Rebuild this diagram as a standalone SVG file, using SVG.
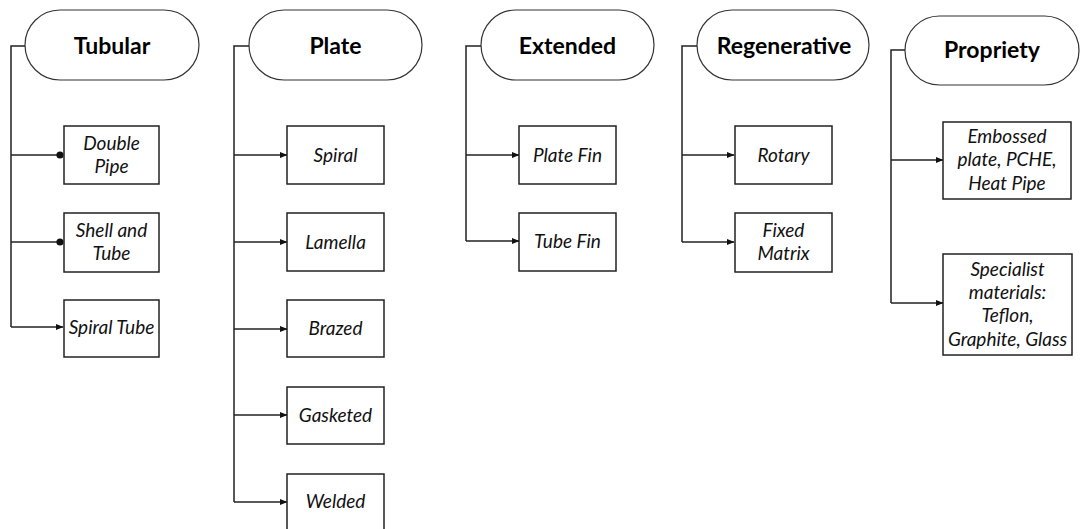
<svg xmlns="http://www.w3.org/2000/svg" width="1080" height="529" viewBox="0 0 1080 529">
<style>
.pill{fill:#fff;stroke:#333;stroke-width:1.2}
.box{fill:#fff;stroke:#222;stroke-width:1.5}
.ttl{font-family:Lato,"Liberation Sans",sans-serif;font-weight:bold;font-size:23px;fill:#000;text-anchor:middle}
.lbl{font-family:Lato,"Liberation Sans",sans-serif;font-style:italic;font-size:19px;fill:#111;text-anchor:middle}
.con{fill:none;stroke:#222;stroke-width:1.5}
</style>
<defs>
<marker id="arr" viewBox="0 0 8 8" refX="7.5" refY="4" markerWidth="8" markerHeight="8" markerUnits="userSpaceOnUse" orient="auto">
<path d="M0,0.8 L8,4 L0,7.2 Z" fill="#111"/>
</marker>
<marker id="dot" viewBox="0 0 8 8" refX="7" refY="4" markerWidth="8" markerHeight="8" markerUnits="userSpaceOnUse" orient="auto">
<circle cx="4" cy="4" r="3.6" fill="#111"/>
</marker>
</defs>
<g id="connectors">
<path class="con" d="M25,46 H11 V327"/>
<path class="con" d="M11,155 H63" marker-end="url(#dot)"/>
<path class="con" d="M11,242 H63" marker-end="url(#dot)"/>
<path class="con" d="M11,327 H63" marker-end="url(#arr)"/>
<path class="con" d="M249,46 H234 V502"/>
<path class="con" d="M234,155 H287" marker-end="url(#arr)"/>
<path class="con" d="M234,242 H287" marker-end="url(#arr)"/>
<path class="con" d="M234,329 H287" marker-end="url(#arr)"/>
<path class="con" d="M234,415 H287" marker-end="url(#arr)"/>
<path class="con" d="M234,502 H287" marker-end="url(#arr)"/>
<path class="con" d="M481,46 H466 V241"/>
<path class="con" d="M466,155 H519" marker-end="url(#arr)"/>
<path class="con" d="M466,241 H519" marker-end="url(#arr)"/>
<path class="con" d="M697,46 H682 V242"/>
<path class="con" d="M682,155 H734" marker-end="url(#arr)"/>
<path class="con" d="M682,242 H734" marker-end="url(#arr)"/>
<path class="con" d="M905,50 H891 V303"/>
<path class="con" d="M891,160 H943" marker-end="url(#arr)"/>
<path class="con" d="M891,303 H943" marker-end="url(#arr)"/>
</g>
<g id="tubular"><rect class="pill" x="25" y="10" width="174" height="70" rx="35"/><text class="ttl" x="112" y="54">Tubular</text></g>
<g id="double-pipe"><rect class="box" x="64" y="126" width="95" height="58"/><text class="lbl" x="111.5" y="150">Double</text><text class="lbl" x="111.5" y="173">Pipe</text></g>
<g id="shell-tube"><rect class="box" x="64" y="213" width="95" height="59"/><text class="lbl" x="111.5" y="237">Shell and</text><text class="lbl" x="111.5" y="260">Tube</text></g>
<g id="spiral-tube"><rect class="box" x="64" y="300" width="95" height="57"/><text class="lbl" x="111.5" y="334">Spiral Tube</text></g>
<g id="plate"><rect class="pill" x="249" y="10" width="173" height="70" rx="35"/><text class="ttl" x="335.5" y="54">Plate</text></g>
<g id="spiral"><rect class="box" x="287" y="126" width="97" height="58"/><text class="lbl" x="335.5" y="162">Spiral</text></g>
<g id="lamella"><rect class="box" x="287" y="213" width="97" height="58"/><text class="lbl" x="335.5" y="249">Lamella</text></g>
<g id="brazed"><rect class="box" x="287" y="300" width="97" height="57"/><text class="lbl" x="335.5" y="335">Brazed</text></g>
<g id="gasketed"><rect class="box" x="287" y="387" width="97" height="57"/><text class="lbl" x="335.5" y="422">Gasketed</text></g>
<g id="welded"><rect class="box" x="287" y="474" width="97" height="70"/><text class="lbl" x="335.5" y="508">Welded</text></g>
<g id="extended"><rect class="pill" x="481" y="10" width="173" height="70" rx="35"/><text class="ttl" x="567.5" y="54">Extended</text></g>
<g id="plate-fin"><rect class="box" x="519" y="126" width="97" height="58"/><text class="lbl" x="567.5" y="162">Plate Fin</text></g>
<g id="tube-fin"><rect class="box" x="519" y="213" width="97" height="58"/><text class="lbl" x="567.5" y="248">Tube Fin</text></g>
<g id="regenerative"><rect class="pill" x="697" y="10" width="172" height="70" rx="35"/><text class="ttl" x="784" y="54">Regenerative</text></g>
<g id="rotary"><rect class="box" x="735" y="126" width="97" height="58"/><text class="lbl" x="783.5" y="162">Rotary</text></g>
<g id="fixed-matrix"><rect class="box" x="735" y="213" width="97" height="59"/><text class="lbl" x="783.5" y="237">Fixed</text><text class="lbl" x="783.5" y="260">Matrix</text></g>
<g id="propriety"><rect class="pill" x="905" y="16" width="174" height="69" rx="34.5"/><text class="ttl" x="992" y="58">Propriety</text></g>
<g id="embossed"><rect class="box" x="943" y="122" width="128" height="77"/><text class="lbl" x="1007" y="143">Embossed</text><text class="lbl" x="1007" y="166">plate, PCHE,</text><text class="lbl" x="1007" y="190">Heat Pipe</text></g>
<g id="specialist"><rect class="box" x="943" y="254" width="129" height="101"/><text class="lbl" x="1007.5" y="276">Specialist</text><text class="lbl" x="1007.5" y="299">materials:</text><text class="lbl" x="1007.5" y="322">Teflon,</text><text class="lbl" x="1007.5" y="346">Graphite, Glass</text></g>
</svg>
